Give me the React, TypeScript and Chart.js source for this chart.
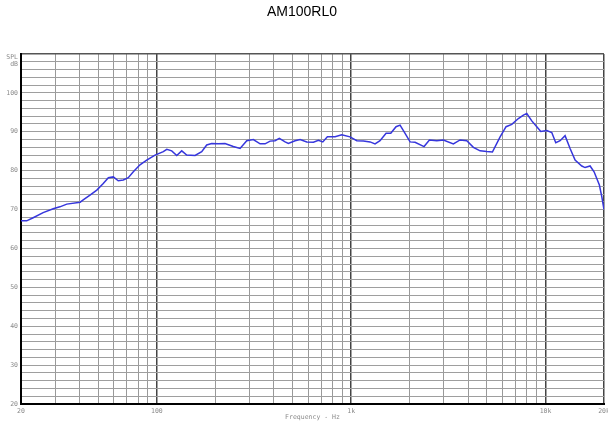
import React, { useEffect, useRef } from "react";
import { Chart, registerables } from "chart.js";

Chart.register(...registerables);

const chartTitle = "AM100RL0";
const xAxisTitle = "Frequency - Hz";
const yUnitLines = ["SPL", "dB"];

const freqs = [
  20, 21.4, 23.1, 26.0, 29.3, 31.7, 34.4, 40.3, 41.8, 45.3, 49.1, 53.0, 56.3, 59.7, 63.3, 67.2,
  71.3, 75.7, 81.9, 88.7, 97.9, 108, 112.5, 119.3, 126.6, 134.3, 142.5, 157.3, 170.2, 180.6,
  191.5, 207.3, 224.3, 247.5, 268.1, 290.2, 313.8, 339.9, 360.6, 382.6, 405.8, 427, 457, 475.2,
  514.6, 545.9, 591.2, 639.3, 678.3, 714.5, 754.5, 826.2, 894.8, 986.6, 1069, 1156, 1251, 1327,
  1408, 1512, 1599, 1702, 1785, 1894, 2010, 2132, 2372, 2527, 2758, 2982, 3357, 3634, 3936,
  4256, 4607, 4989, 5331, 5840, 6268, 6706, 7251, 7694, 8011, 8500, 9019, 9457, 10152, 10772,
  11295, 11888, 12612, 13381, 14200, 15372, 15987, 16961, 17783, 18935, 19482, 20000,
];

const spl = [
  67.1, 67.1, 67.9, 69.2, 70.2, 70.7, 71.4, 71.9, 72.5, 73.7, 75.0, 76.7, 78.2, 78.4, 77.4, 77.6,
  78.2, 79.7, 81.5, 82.7, 84.0, 84.9, 85.5, 85.1, 83.9, 85.1, 84.0, 83.9, 84.9, 86.6,
  87.0, 86.9, 87.0, 86.2, 85.7, 87.7, 88.0, 86.9, 86.9, 87.6, 87.7, 88.3, 87.4, 87.0,
  87.7, 88.0, 87.4, 87.3, 87.8, 87.4, 88.7, 88.7, 89.2, 88.7, 87.7, 87.6, 87.4, 86.9,
  87.7, 89.6, 89.6, 91.3, 91.7, 89.6, 87.4, 87.3, 86.2, 87.9, 87.7, 87.9, 86.9, 87.9, 87.7,
  86.0, 85.1, 84.9, 84.8, 88.7, 91.3, 91.9, 93.4, 94.3, 94.7, 92.8, 91.3, 90.1, 90.3, 89.8,
  87.2, 87.7, 89.0, 85.7, 82.7, 81.2, 80.8, 81.2, 79.7, 76.3, 73.3, 70.0,
];

const xGridTicks = [
  20, 30, 40, 50, 60, 70, 80, 90,
  100, 200, 300, 400, 500, 600, 700, 800, 900,
  1000, 2000, 3000, 4000, 5000, 6000, 7000, 8000, 9000,
  10000, 20000,
];
const xTickLabels: Record<number, string> = { 20: "20", 100: "100", 1000: "1k", 10000: "10k", 20000: "20k" };
const xDecades = [100, 1000, 10000];

const yMin = 20;
const yMax = 110;
const yStep = 2;
const yLabelStep = 10;

const smallFont = { family: "DejaVu Sans Mono", size: 6.5 };
const labelColor = "#8a8a8a";

const unitPlugin = {
  id: "unitLabel",
  afterDraw(chart: any) {
    const { ctx, chartArea } = chart;
    ctx.save();
    ctx.font = `${smallFont.size}px "${smallFont.family}"`;
    ctx.fillStyle = labelColor;
    ctx.textAlign = "right";
    ctx.textBaseline = "middle";
    ctx.fillText(yUnitLines[0], chartArea.left - 3, chartArea.top + 3);
    ctx.fillText(yUnitLines[1], chartArea.left - 3, chartArea.top + 10);
    ctx.restore();
  },
};

export default function App() {
  const canvasRef = useRef<HTMLCanvasElement | null>(null);

  useEffect(() => {
    document.body.style.margin = "0";
    const canvas = canvasRef.current;
    if (!canvas) return;
    const chart = new Chart(canvas, {
      type: "line",
      data: {
        datasets: [
          {
            data: freqs.map((f, i) => ({ x: f, y: spl[i] })),
            borderColor: "#3636dc",
            borderWidth: 1.5,
            pointRadius: 0,
            tension: 0,
            fill: false,
          },
        ],
      },
      options: {
        responsive: false,
        animation: false,
        layout: { padding: { left: 0, right: 4, top: 0, bottom: 0 } },
        plugins: {
          legend: { display: false },
          tooltip: { enabled: false },
          title: {
            display: true,
            text: chartTitle,
            color: "#000",
            font: { family: "Liberation Sans", size: 14, weight: "normal" },
            padding: { top: 4, bottom: 33.2 },
          },
        },
        scales: {
          x: {
            type: "logarithmic",
            min: 20,
            max: 20000,
            afterBuildTicks: (s: any) => {
              s.ticks = xGridTicks.map((v) => ({ value: v }));
            },
            afterFit: (s: any) => {
              s.height = 23;
              s.paddingLeft = 0;
              s.paddingRight = 0;
            },
            ticks: {
              autoSkip: false,
              maxRotation: 0,
              minRotation: 0,
              padding: 3,
              font: smallFont,
              color: labelColor,
              callback: (v: any) => xTickLabels[Number(v)] ?? "",
            },
            grid: {
              drawTicks: false,
              color: (ctx: any) => {
                const v = ctx.tick?.value;
                if (xDecades.includes(v)) return "#444";
                if (v === 20000) return "#444";
                return "#999";
              },
              lineWidth: (ctx: any) => {
                const v = ctx.tick?.value;
                if (xDecades.includes(v) || v === 20000) return 1.5;
                return 1;
              },
            },
            border: { color: "#000", width: 2 },
            title: {
              display: true,
              text: xAxisTitle,
              color: labelColor,
              font: smallFont,
              padding: { top: 0, bottom: 6 },
            },
          },
          y: {
            type: "linear",
            min: yMin,
            max: yMax,
            afterFit: (s: any) => {
              s.width = 21;
              s.paddingTop = 0;
              s.paddingBottom = 0;
            },
            ticks: {
              stepSize: yStep,
              autoSkip: false,
              padding: 3,
              font: smallFont,
              color: labelColor,
              callback: (v: any) => (Number(v) % yLabelStep === 0 && Number(v) < yMax ? String(v) : ""),
            },
            grid: {
              drawTicks: false,
              color: (ctx: any) => (ctx.tick?.value === yMax ? "#555" : "#9e9e9e"),
              lineWidth: (ctx: any) => (ctx.tick?.value === yMax ? 1.5 : 1),
            },
            border: { color: "#000", width: 2 },
          },
        },
      },
      plugins: [unitPlugin],
    } as any);
    return () => chart.destroy();
  }, []);

  return (
    <div style={{ width: 608, height: 427 }}>
      <canvas ref={canvasRef} width={608} height={427} style={{ display: "block" }} />
    </div>
  );
}
